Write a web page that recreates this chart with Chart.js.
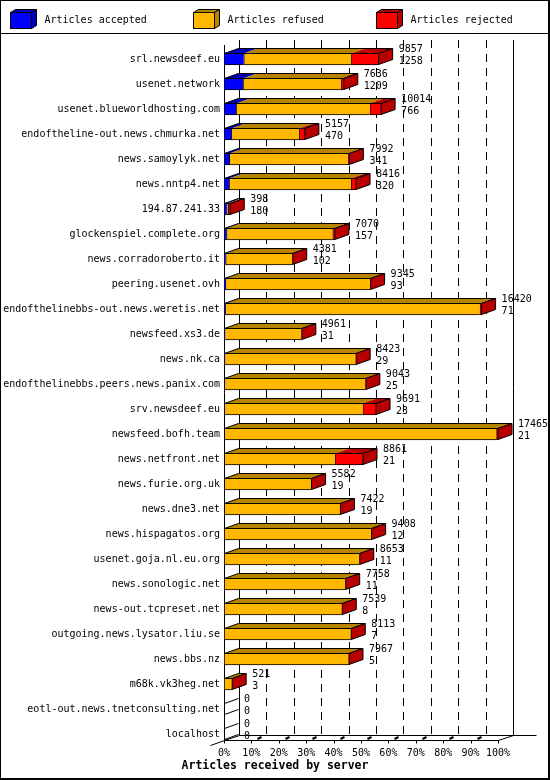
<!DOCTYPE html>
<html>
<head>
<meta charset="utf-8">
<script src="https://cdn.jsdelivr.net/npm/chart.js@4.4.1/dist/chart.umd.min.js"></script>
<style>
html, body { margin: 0; padding: 0; background: #fff; }
canvas { display: block; }
</style>
</head>
<body>
<canvas id="chart" width="550" height="780"></canvas>
<script>
const servers = [
	'srl.newsdeef.eu', 'usenet.network', 'usenet.blueworldhosting.com',
	'endoftheline-out.news.chmurka.net', 'news.samoylyk.net', 'news.nntp4.net',
	'194.87.241.33', 'glockenspiel.complete.org', 'news.corradoroberto.it',
	'peering.usenet.ovh', 'endofthelinebbs-out.news.weretis.net', 'newsfeed.xs3.de',
	'news.nk.ca', 'endofthelinebbs.peers.news.panix.com', 'srv.newsdeef.eu',
	'newsfeed.bofh.team', 'news.netfront.net', 'news.furie.org.uk',
	'news.dne3.net', 'news.hispagatos.org', 'usenet.goja.nl.eu.org',
	'news.sonologic.net', 'news-out.tcpreset.net', 'outgoing.news.lysator.liu.se',
	'news.bbs.nz', 'm68k.vk3heg.net', 'eotl-out.news.tnetconsulting.net', 'localhost'
];
// articles offered (total) and accepted, as printed next to each bar
const offered = [9857, 7636, 10014, 5157, 7992, 8416, 398, 7070, 4381, 9345, 16420, 4961, 8423, 9043,
	9691, 17465, 8861, 5582, 7422, 9408, 8653, 7758, 7539, 8113, 7967, 521, 0, 0];
const accepted = [1258, 1209, 766, 470, 341, 320, 180, 157, 102, 93, 71, 31, 29, 25,
	23, 21, 21, 19, 19, 12, 11, 11, 8, 7, 5, 3, 0, 0];
// rejected
const rejected = [1740, 190, 720, 360, 90, 320, 130, 150, 0, 0, 120, 0, 0, 0,
	850, 100, 1770, 0, 0, 0, 0, 0, 0, 0, 0, 0, 0, 0];
const refused = offered.map((n, i) => n - accepted[i] - rejected[i]);

const seriesNames = ['Articles accepted', 'Articles refused', 'Articles rejected'];
const faceColors = ['#0000ff', '#ffb700', '#ff0000'];
const shadeColors = ['#0000b8', '#b88400', '#b80000'];
const percentTicks = [0, 10, 20, 30, 40, 50, 60, 70, 80, 90, 100];
const axisTitle = 'Articles received by server';

const maxOffered = Math.max(...offered);
const toPct = n => n / maxOffered * 100;

const DX = 14, DY = 5;      // bar depth
const WDX = 15, WDY = 5;    // wall depth
const FONT = "'DejaVu Sans Mono', monospace";

Chart.defaults.font.family = FONT;
Chart.defaults.font.size = 10;
Chart.defaults.color = '#000';

function line(ctx, x1, y1, x2, y2) {
	ctx.beginPath();
	ctx.moveTo(x1, y1);
	ctx.lineTo(x2, y2);
	ctx.stroke();
}

function poly(ctx, pts, fill) {
	ctx.beginPath();
	ctx.moveTo(pts[0][0], pts[0][1]);
	for (let p of pts.slice(1)) ctx.lineTo(p[0], p[1]);
	ctx.closePath();
	if (fill) {
		ctx.fillStyle = fill;
		ctx.fill();
	}
	ctx.stroke();
}

const frame3d = {
	id: 'frame3d',
	beforeDatasetsDraw(chart) {
		const { ctx, chartArea: a, scales: { x } } = chart;
		const left = a.left + 0.5;
		const frontY = a.bottom - 6;     // 740.5
		const backY = frontY - WDY;
		const topBack = a.top - 6.5;
		ctx.save();
		ctx.strokeStyle = '#000';
		ctx.lineWidth = 1;

		// dashed gridlines on the back wall
		ctx.setLineDash([8, 6]);
		percentTicks.slice(1, -1).forEach(v => {
			const xb = Math.round(x.getPixelForValue(v)) + WDX + 0.5;
			line(ctx, xb, topBack, xb, backY);
		});
		ctx.setLineDash([]);

		// walls and floor edges
		line(ctx, left, a.top - 1.5, left, frontY);
		line(ctx, left + WDX, topBack, left + WDX, backY);
		const right = Math.round(a.right) + 0.5;
		line(ctx, right + WDX, topBack, right + WDX, backY);
		line(ctx, left, frontY, right, frontY);
		line(ctx, left + WDX, backY, right + WDX + 23, backY);
		line(ctx, left, frontY, left + WDX, backY);
		line(ctx, right, frontY, right + WDX, backY);
		line(ctx, left - 14, frontY + 5, left, frontY);

		// ticks on the floor
		percentTicks.forEach(v => {
			const xf = Math.round(x.getPixelForValue(v)) + 0.5;
			line(ctx, xf, frontY, xf, frontY + 3);
			if (v > 0 && v < 100) {
				ctx.lineWidth = 2;
				line(ctx, xf + 6, frontY - 1.5, xf + 10, frontY - 3.5);
				ctx.lineWidth = 1;
			}
		});
		ctx.restore();
	},
	afterDatasetsDraw(chart) {
		const { ctx, scales: { x, y } } = chart;
		const metas = [0, 1, 2].map(d => chart.getDatasetMeta(d));
		ctx.save();
		ctx.strokeStyle = '#000';
		ctx.lineWidth = 1;
		ctx.font = '10px ' + FONT;
		ctx.fillStyle = '#000';
		ctx.textBaseline = 'middle';
		ctx.textAlign = 'left';

		servers.forEach((s, i) => {
			const yc = y.getPixelForValue(i);
			const yt = yc - 6, yb = yc + 6;
			const xs = x.getPixelForValue(0) + 0.5;
			const xe = x.getPixelForValue(toPct(offered[i]));

			if (offered[i] === 0) {
				line(ctx, xs, yt + 0.5, xs + DX, yt + 0.5 - DY);
				line(ctx, xs, yb - 0.5, xs + DX, yb - 0.5 - DY);
			} else {
				metas.forEach((meta, d) => {
					const el = meta.data[i];
					const x0 = el.base, x1 = el.x;
					if (x1 - x0 <= 0) return;
					ctx.fillStyle = shadeColors[d];
					ctx.beginPath();
					ctx.moveTo(x0, yt + 0.5);
					ctx.lineTo(x1, yt + 0.5);
					ctx.lineTo(x1 + DX, yt + 0.5 - DY);
					ctx.lineTo(x0 + DX, yt + 0.5 - DY);
					ctx.closePath();
					ctx.fill();
				});
				poly(ctx, [[xs, yt + 0.5], [xe, yt + 0.5], [xe + DX, yt + 0.5 - DY], [xs + DX, yt + 0.5 - DY]]);
				poly(ctx, [[xe, yt + 0.5], [xe + DX, yt + 0.5 - DY], [xe + DX, yb - 0.5 - DY], [xe, yb - 0.5]], shadeColors[2]);
			}

			ctx.fillStyle = '#000';
			ctx.fillText(String(offered[i]), xe + 20, yc - 10);
			ctx.fillText(String(accepted[i]), xe + 20, yc + 2);
		});
		ctx.restore();
	},
	afterDraw(chart) {
		const { ctx } = chart;
		ctx.save();
		ctx.strokeStyle = '#000';
		ctx.lineWidth = 1;

		// legend with little 3d boxes
		ctx.font = '10px ' + FONT;
		ctx.textBaseline = 'middle';
		ctx.textAlign = 'left';
		seriesNames.forEach((name, d) => {
			const bx = 10.5 + d * 183;
			ctx.fillStyle = faceColors[d];
			ctx.fillRect(bx, 12.5, 21, 16);
			ctx.strokeRect(bx, 12.5, 21, 16);
			poly(ctx, [[bx, 12.5], [bx + 21, 12.5], [bx + 26, 9.5], [bx + 5, 9.5]], shadeColors[d]);
			poly(ctx, [[bx + 21, 12.5], [bx + 26, 9.5], [bx + 26, 25.5], [bx + 21, 28.5]], shadeColors[d]);
			ctx.fillStyle = '#000';
			ctx.fillText(chart.data.datasets[d].label, bx + 34, 20.5);
		});
		line(ctx, 0, 33.5, 550, 33.5);

		// axis title centred on the picture
		ctx.font = 'bold 11.5px ' + FONT;
		ctx.textAlign = 'center';
		ctx.fillText(axisTitle, 275, 766);

		// outer frame
		ctx.fillStyle = '#000';
		ctx.fillRect(0, 0, 550, 1);
		ctx.fillRect(0, 0, 1, 780);
		ctx.fillRect(548, 0, 2, 780);
		ctx.fillRect(0, 778, 550, 2);
		ctx.restore();
	}
};

const series = [accepted, refused, rejected];

new Chart(document.getElementById('chart'), {
	type: 'bar',
	data: {
		labels: servers,
		datasets: series.map((values, d) => ({
			label: seriesNames[d],
			data: values.map(toPct),
			backgroundColor: faceColors[d],
			borderColor: '#000',
			borderWidth: { top: 1, bottom: 1, left: 1, right: 0 },
			borderSkipped: false,
			barThickness: 12
		}))
	},
	options: {
		indexAxis: 'y',
		responsive: false,
		animation: false,
		devicePixelRatio: 1,
		layout: { padding: { top: 46.5, right: 52, bottom: 20.5, left: 0 } },
		plugins: {
			legend: { display: false },
			tooltip: { enabled: false }
		},
		scales: {
			x: {
				stacked: true,
				min: 0,
				max: 100,
				afterBuildTicks: scale => { scale.ticks = percentTicks.map(v => ({ value: v })); },
				ticks: { callback: v => v + '%', padding: 1, maxRotation: 0, autoSkip: false },
				grid: { display: false, drawTicks: false },
				border: { display: false },
				afterFit: scale => { scale.height = 13; }
			},
			y: {
				stacked: true,
				ticks: { padding: 4, autoSkip: false },
				grid: { display: false, drawTicks: false },
				border: { display: false },
				afterFit: scale => { scale.width = 224; }
			}
		}
	},
	plugins: [frame3d]
});
</script>
</body>
</html>
